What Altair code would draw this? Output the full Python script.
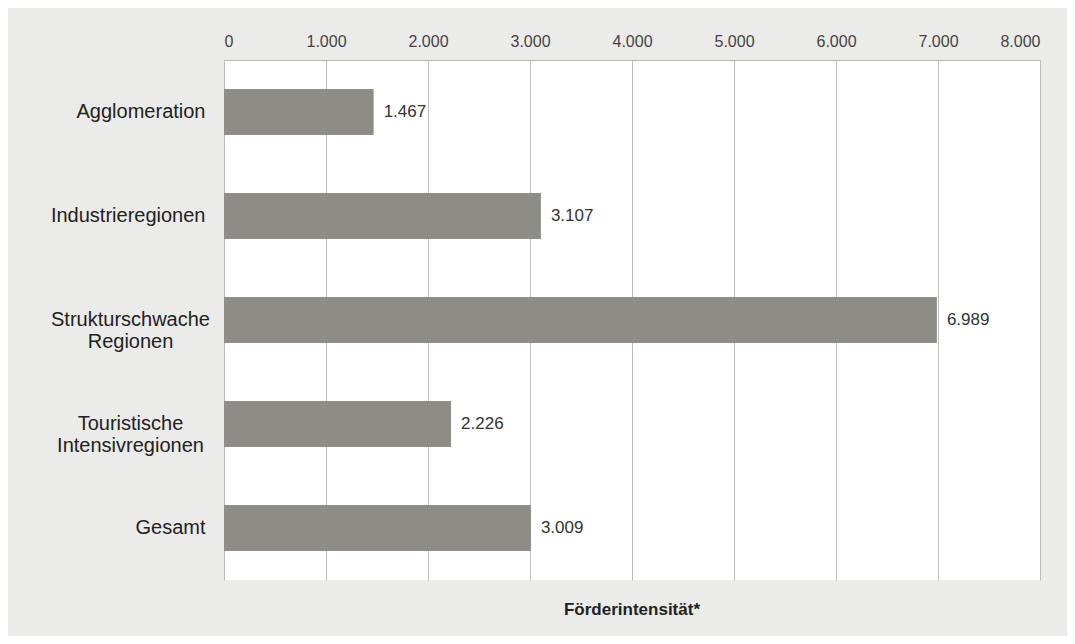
import altair as alt
import pandas as pd

categories = ["Agglomeration", "Industrieregionen", "Strukturschwache|Regionen",
              "Touristische|Intensivregionen", "Gesamt"]
values = [1467, 3107, 6989, 2226, 3009]
x_ticks = [0, 1000, 2000, 3000, 4000, 5000, 6000, 7000, 8000]

df = pd.DataFrame({"cat": categories, "val": values})

FONT = "Liberation Sans"
multi = "indexof(datum.value, '|') >= 0"

y_enc = alt.Y("cat:N", sort=categories, title=None,
              scale=alt.Scale(paddingInner=0.56, paddingOuter=0.28),
              axis=alt.Axis(labelExpr="split(datum.label, '|')", labelFontSize=20,
                            labelColor="#222222", labelFont=FONT, ticks=False,
                            domain=False, labelLineHeight=22, labelLimit=300,
                            labelAlign={"condition": {"test": multi, "value": "center"},
                                        "value": "right"},
                            labelPadding={"condition": {"test": multi, "value": 94},
                                          "value": 19}))
x_enc = alt.X("val:Q", title=None,
              scale=alt.Scale(domain=[0, 8000], nice=False),
              axis=alt.Axis(orient="top", values=x_ticks,
                            labelExpr="replace(format(datum.value, ',d'), ',', '.')",
                            labelFontSize=16, labelColor="#444444", labelFont=FONT,
                            ticks=False, domain=True, domainColor="#b5b5b5",
                            grid=True, gridColor="#bdbdbd", labelPadding=11))

bars = alt.Chart(df).mark_bar(color="#8d8c86").encode(x=x_enc, y=y_enc)

labels = alt.Chart(df).transform_calculate(
    lab="replace(format(datum.val, ',d'), ',', '.')"
).mark_text(align="left", dx=10, fontSize=17, color="#333333", font=FONT).encode(
    x="val:Q", y=alt.Y("cat:N", sort=categories), text="lab:N")

chart = (bars + labels).properties(
    width=816, height=520,
    background="#ebebe9",
    padding={"left": 216, "top": 52, "right": 27, "bottom": 56},
    autosize=alt.AutoSizeParams(type="none"),
    title=alt.TitleParams("Förderintensität*", orient="bottom", anchor="middle",
                          fontSize=17, fontWeight="bold", font=FONT, color="#222222",
                          offset=22),
).configure_view(fill="white", stroke=None)

chart.save("out.html", embed_options={"renderer": "svg", "actions": False})
